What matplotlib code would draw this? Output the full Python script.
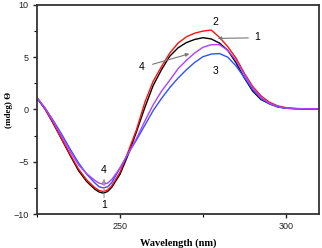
import numpy as np
import matplotlib
matplotlib.use("Agg")
import matplotlib.pyplot as plt
from matplotlib.ticker import MultipleLocator

# wavelength (nm) and CD signal (mdeg)
wavelength = [225, 227.5, 230, 232.5, 235, 237.5, 240, 242.5, 243.75, 245, 246.25,
              247.5, 250, 252.5, 255, 257.5, 260, 262.5, 265, 267.5, 270, 272.5,
              275, 277.5, 280, 282.5, 285, 287.5, 290, 292.5, 295, 297.5, 300,
              302.5, 305, 307.5, 310]

curve1 = [1.1, 0.0, -1.4, -2.9, -4.4, -5.85, -6.9, -7.65, -7.9, -8.0, -7.85,
          -7.45, -6.2, -4.3, -2.1, 0.2, 2.3, 3.8, 5.1, 5.9, 6.4, 6.7,
          6.87, 6.75, 6.35, 5.65, 4.45, 3.0, 1.75, 0.95, 0.55, 0.25, 0.12,
          0.08, 0.05, 0.05, 0.05]
curve2 = [1.1, 0.0, -1.35, -2.85, -4.3, -5.7, -6.75, -7.5, -7.75, -7.85, -7.7,
          -7.3, -6.0, -4.0, -1.9, 0.7, 2.7, 4.1, 5.4, 6.35, 6.95, 7.3,
          7.5, 7.6, 6.9, 6.0, 4.9, 3.45, 2.2, 1.3, 0.7, 0.35, 0.18,
          0.1, 0.06, 0.05, 0.05]
curve3 = [1.1, 0.1, -1.1, -2.4, -3.8, -5.1, -6.2, -7.05, -7.4, -7.5, -7.4,
          -7.0, -5.6, -4.2, -2.9, -1.5, -0.1, 1.05, 2.1, 3.0, 3.8, 4.5,
          5.05, 5.3, 5.35, 5.0, 4.15, 3.05, 1.9, 1.05, 0.55, 0.25, 0.12,
          0.08, 0.06, 0.06, 0.06]
curve4 = [1.15, 0.1, -1.2, -2.6, -4.0, -5.3, -6.15, -6.8, -7.05, -7.15, -7.05,
          -6.7, -5.6, -4.2, -2.75, -1.1, 0.45, 1.75, 2.8, 3.9, 4.7, 5.4,
          5.95, 6.2, 6.2, 5.65, 4.7, 3.3, 2.05, 1.15, 0.6, 0.3, 0.15,
          0.1, 0.08, 0.08, 0.08]

fig = plt.figure(figsize=(3.22, 2.48), dpi=100)
ax = fig.add_axes([0.115, 0.137, 0.876, 0.843])

ax.plot(wavelength, curve1, color="black", lw=1.0)
ax.plot(wavelength, curve2, color="#ff1010", lw=1.0)
ax.plot(wavelength, curve3, color="#3050ff", lw=1.0)
ax.plot(wavelength, curve4, color="#b040ff", lw=1.0)

ax.set_xlim(225, 310)
ax.set_ylim(-10, 10)
ax.xaxis.set_major_locator(MultipleLocator(50))
ax.xaxis.set_minor_locator(MultipleLocator(25))
ax.yaxis.set_major_locator(MultipleLocator(5))
ax.yaxis.set_minor_locator(MultipleLocator(2.5))
ax.tick_params(which="major", direction="out", length=3, width=1, labelsize=6.5,
               pad=3, colors="#222222")
ax.tick_params(which="minor", direction="out", length=2, width=0.8)
for lab in ax.get_xticklabels() + ax.get_yticklabels():
    lab.set_family("Liberation Sans")
for sp in ax.spines.values():
    sp.set_linewidth(1.3)
    sp.set_color("#333333")

ax.set_xlabel("Wavelength (nm)", family="Liberation Serif", fontweight="bold",
              fontsize=7.5, labelpad=5)
ax.set_ylabel("(mdeg) \u0398", family="Liberation Serif", fontweight="bold",
              fontsize=6.5)
ax.yaxis.set_label_coords(-0.085, 0.5)

lab_kw = dict(fontsize=7.5, family="Liberation Sans", ha="center", va="center")
ax.text(278.6, 8.4, "2", **lab_kw)
ax.text(291.3, 6.9, "1", **lab_kw)
ax.text(256.6, 4.1, "4", **lab_kw)
ax.text(278.9, 3.7, "3", **lab_kw)
ax.text(245.2, -5.8, "4", **lab_kw)
ax.text(245.2, -9.1, "1", **lab_kw)

ax.annotate("", xy=(278.6, 6.8), xytext=(289.5, 6.85),
            arrowprops=dict(arrowstyle="-|>", color="#777777", lw=0.8,
                            mutation_scale=5))
ax.annotate("", xy=(271.7, 5.4), xytext=(259.0, 4.25),
            arrowprops=dict(arrowstyle="-|>", color="#777777", lw=0.8,
                            mutation_scale=5))
ax.annotate("", xy=(245.2, -6.35), xytext=(245.2, -8.7),
            arrowprops=dict(arrowstyle="-|>", color="#999999", lw=0.8,
                            ls="--", mutation_scale=5))

fig.savefig("out.png", dpi=100)
